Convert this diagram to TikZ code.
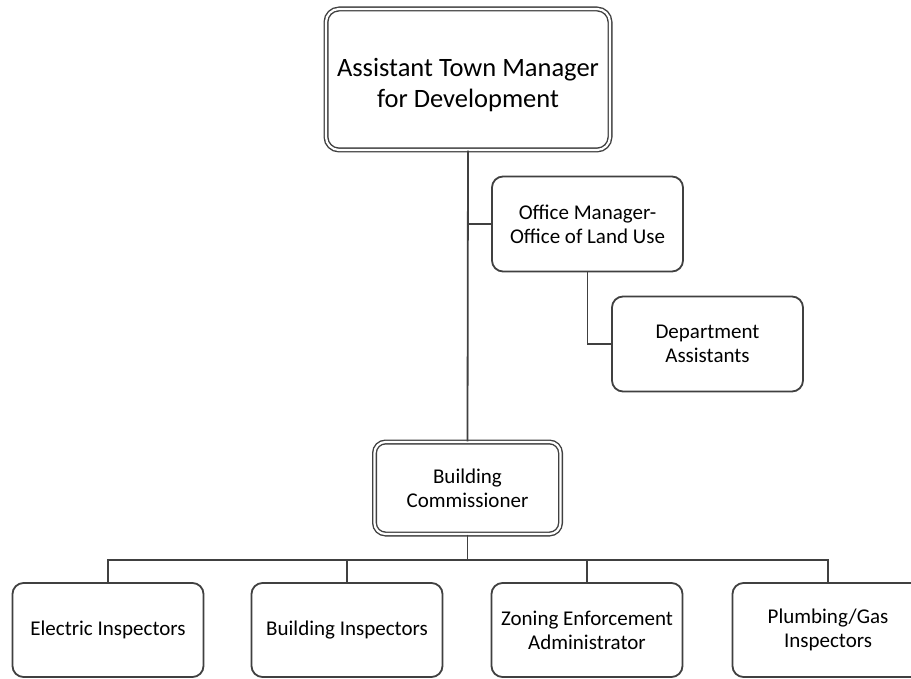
\documentclass[tikz,border=0pt]{standalone}
\usepackage{fontspec}
\setmainfont{Carlito}
\begin{document}
\begin{tikzpicture}[x=1pt,y=-1pt,
  ln/.style={draw=black!75,line width=1.8pt},
  box/.style={ln,rectangle,rounded corners=11pt,align=center,inner sep=0pt,
    font=\fontsize{21}{24}\selectfont,minimum width=191pt,minimum height=95pt},
  dbox/.style={box,double=white,double distance=2.2pt,line width=1.4pt},
]
\clip (0,0) rectangle (911,679);
\fill[white] (0,0) rectangle (911,679);
\node[dbox,minimum width=284pt,minimum height=141pt,rounded corners=13pt,
  font=\fontsize{26.5}{31}\selectfont] (top) at (468,79.5)
  {\rule{0pt}{30pt}Assistant Town Manager\\for Development};
\node[box] (office) at (587.5,224) {Office Manager-\\Office of Land Use};
\node[box] (dept) at (707.5,344) {Department\\Assistants};
\node[dbox,minimum width=186pt,minimum height=92pt] (comm) at (467.5,488)
  {Building\\Commissioner};
\node[box,minimum height=94pt] (b1) at (108,630) {Electric Inspectors};
\node[box,minimum height=94pt] (b2) at (347,630) {Building Inspectors};
\node[box,minimum height=94pt] (b3) at (587,630) {Zoning Enforcement\\Administrator};
\node[box,minimum height=94pt] (b4) at (828,630) {Plumbing/Gas\\Inspectors};
\coordinate (bus) at (467.5,560);
\draw[ln] (top.south) -- (comm.north);
\draw[ln] (top.south |- office.west) -- (office.west);
\draw[ln] (office.south) |- (dept.west);
\draw[ln] (comm.south) -- (bus);
\draw[ln] (b1.north) |- (bus) -| (b4.north);
\draw[ln] (b2.north) -- (b2.north |- bus);
\draw[ln] (b3.north) -- (b3.north |- bus);
\end{tikzpicture}
\end{document}
